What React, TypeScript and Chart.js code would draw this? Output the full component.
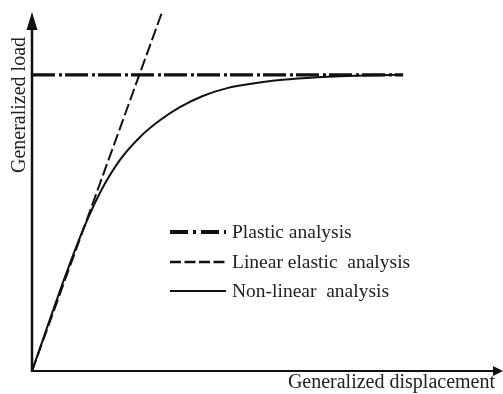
import React, { useEffect, useRef } from "react";
import { Chart, registerables } from "chart.js";

Chart.register(...registerables);

// Generalized displacement (x) / generalized load (y), arbitrary units 0..10
const plasticX = [0, 7.93];
const plasticY = [8.25, 8.25];
const elasticX = [0, 2.78];
const elasticY = [0, 10];
const nonlinearX = [0, 0.705, 1.09, 1.45, 1.88, 2.31, 2.74, 3.16, 3.65, 4.17, 4.72, 5.36, 6.09, 6.58, 7.82];
const nonlinearY = [0, 2.62, 3.93, 4.96, 5.88, 6.52, 6.99, 7.35, 7.66, 7.88, 8.01, 8.11, 8.18, 8.21, 8.25];

const legendLabels = ["Plastic analysis", "Linear elastic  analysis", "Non-linear  analysis"];
const xAxisTitle = "Generalized displacement";
const yAxisTitle = "Generalized load";

const INK = "#111111";
const TEXT = "#222222";
const SERIF = "'Liberation Serif', 'Times New Roman', serif";

const toPoints = (xs: number[], ys: number[]) => xs.map((x, i) => ({ x, y: ys[i] }));

const decorPlugin = {
  id: "decor",
  afterDraw(chart: any) {
    const { ctx, chartArea } = chart;
    const { left, top, right, bottom } = chartArea;
    ctx.save();
    // axes
    ctx.strokeStyle = INK;
    ctx.fillStyle = INK;
    ctx.setLineDash([]);
    ctx.lineWidth = 2.5;
    ctx.beginPath();
    ctx.moveTo(left, bottom + 1);
    ctx.lineTo(left, top + 10);
    ctx.stroke();
    ctx.lineWidth = 2;
    ctx.beginPath();
    ctx.moveTo(left - 1, bottom);
    ctx.lineTo(right - 6, bottom);
    ctx.stroke();
    // arrows
    ctx.beginPath();
    ctx.moveTo(left, top);
    ctx.lineTo(left - 5.5, top + 18);
    ctx.lineTo(left + 5.5, top + 18);
    ctx.closePath();
    ctx.fill();
    ctx.beginPath();
    ctx.moveTo(right + 3, bottom);
    ctx.lineTo(right - 7, bottom - 5);
    ctx.lineTo(right - 7, bottom + 5);
    ctx.closePath();
    ctx.fill();

    // axis titles
    ctx.fillStyle = TEXT;
    ctx.font = `20px ${SERIF}`;
    ctx.textAlign = "right";
    ctx.textBaseline = "alphabetic";
    ctx.fillText(xAxisTitle, 495, 388);
    ctx.save();
    ctx.translate(20, 105);
    ctx.rotate(-Math.PI / 2);
    ctx.textAlign = "center";
    ctx.textBaseline = "middle";
    ctx.fillText(yAxisTitle, 0, 0);
    ctx.restore();

    // legend
    const rows = [
      { y: 232, dash: [18, 5, 3, 5], width: 4 },
      { y: 262, dash: [11, 3.5], width: 2.4 },
      { y: 291, dash: [], width: 2 },
    ];
    rows.forEach((r, i) => {
      ctx.strokeStyle = INK;
      ctx.lineWidth = r.width;
      ctx.setLineDash(r.dash);
      ctx.beginPath();
      ctx.moveTo(170, r.y);
      ctx.lineTo(226, r.y);
      ctx.stroke();
      ctx.setLineDash([]);
      ctx.fillStyle = TEXT;
      ctx.font = `19.5px ${SERIF}`;
      ctx.textAlign = "left";
      ctx.textBaseline = "middle";
      ctx.fillText(legendLabels[i], 232, r.y + 1);
    });
    ctx.restore();
  },
};

export default function App() {
  const canvasRef = useRef<HTMLCanvasElement | null>(null);

  useEffect(() => {
    if (!canvasRef.current) return;
    const chart = new Chart(canvasRef.current, {
      type: "line",
      data: {
        datasets: [
          {
            label: legendLabels[0],
            data: toPoints(plasticX, plasticY),
            borderColor: INK,
            borderWidth: 3.2,
            borderDash: [23, 4, 3, 3],
            pointRadius: 0,
            fill: false,
          },
          {
            label: legendLabels[1],
            data: toPoints(elasticX, elasticY),
            borderColor: INK,
            borderWidth: 2,
            borderDash: [12, 4],
            pointRadius: 0,
            fill: false,
          },
          {
            label: legendLabels[2],
            data: toPoints(nonlinearX, nonlinearY),
            borderColor: INK,
            borderWidth: 2,
            pointRadius: 0,
            cubicInterpolationMode: "monotone",
            fill: false,
          },
        ],
      },
      options: {
        animation: false,
        responsive: false,
        devicePixelRatio: 1,
        layout: { padding: { left: 32, top: 12, right: 3, bottom: 23 } },
        scales: {
          x: { type: "linear", min: 0, max: 10, display: false },
          y: { type: "linear", min: 0, max: 10, display: false },
        },
        plugins: {
          legend: { display: false },
          tooltip: { enabled: false },
        },
        elements: { line: { borderCapStyle: "butt" } },
      },
      plugins: [decorPlugin],
    } as any);
    return () => chart.destroy();
  }, []);

  return (
    <div style={{ position: "fixed", left: 0, top: 0, width: 503, height: 394, background: "#fff" }}>
      <canvas ref={canvasRef} width={503} height={394} />
    </div>
  );
}
